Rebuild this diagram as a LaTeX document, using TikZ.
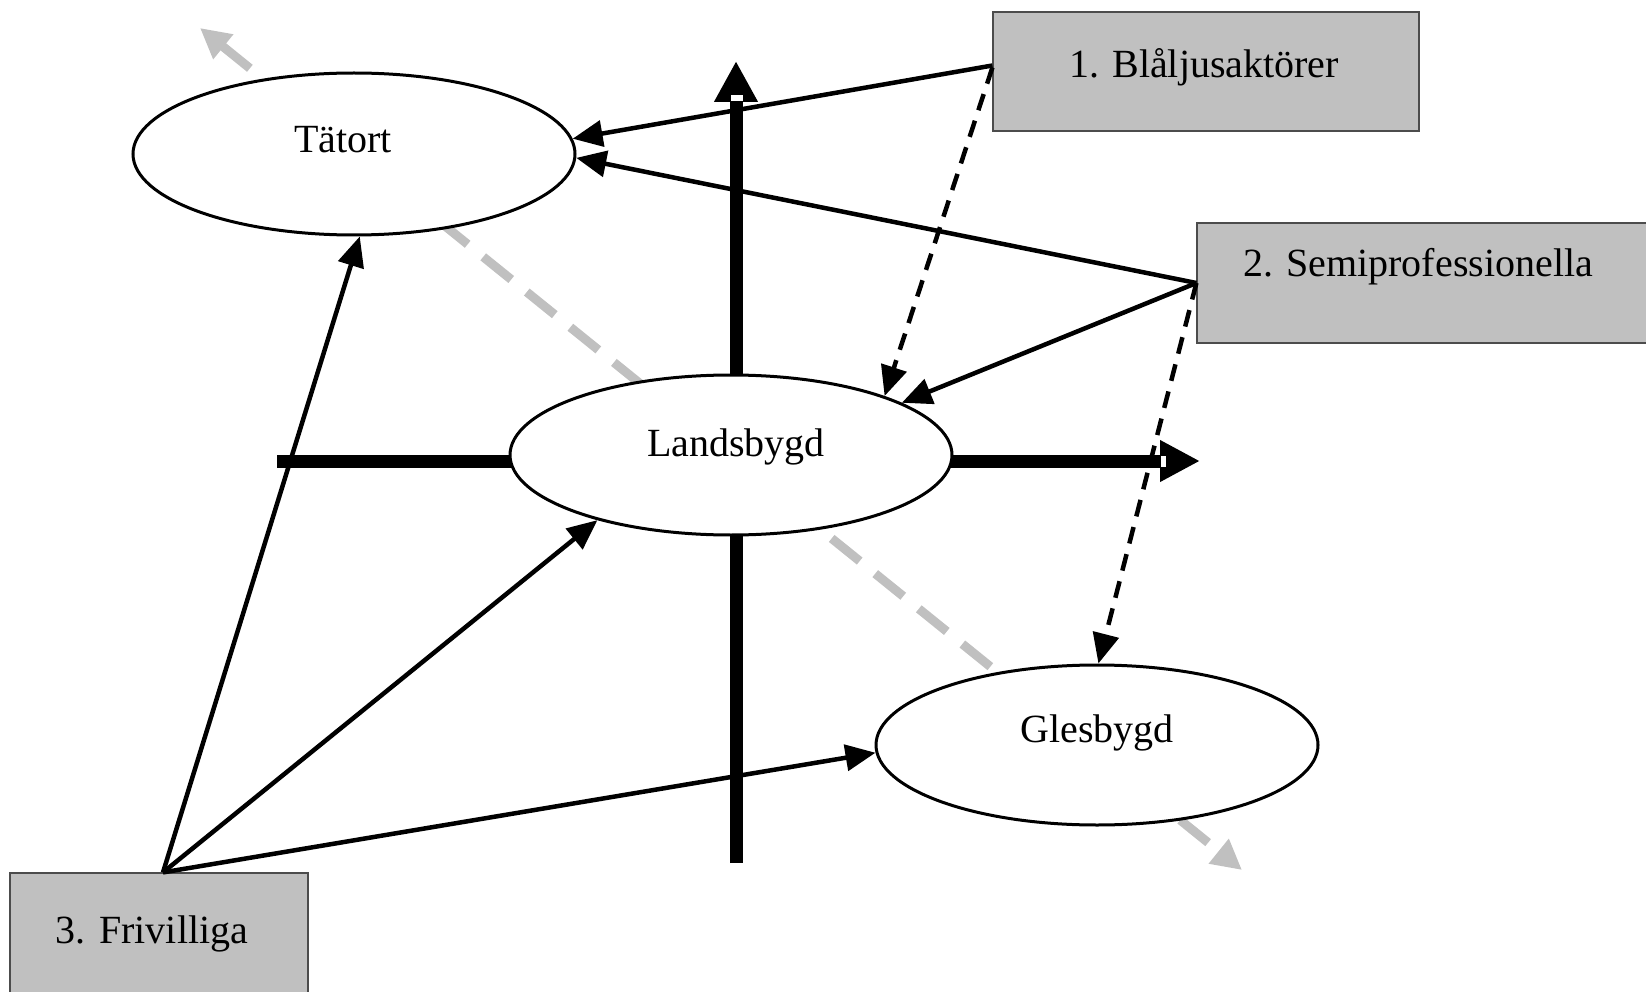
\documentclass[tikz,border=0pt]{standalone}
\usepackage{fontspec}
\setmainfont{Liberation Serif}
\usetikzlibrary{arrows.meta,shapes.geometric}
\definecolor{boxgrey}{RGB}{192,192,192}
\definecolor{lightgrey}{RGB}{192,192,192}
\begin{document}
\begin{tikzpicture}[x=1pt,y=-1pt,
  ell/.style={draw=black, line width=3pt, fill=white, ellipse, minimum width=442pt, minimum height=160pt, inner sep=0pt},
  grpbox/.style={draw=black!70, line width=1.2pt, fill=boxgrey, rectangle, inner sep=0pt},
  lbl/.style={anchor=base, font=\fontsize{40}{48}\selectfont, inner sep=0pt},
  conn/.style={line width=4.5pt, -{Triangle[length=30pt,width=26pt]}},
  dconn/.style={conn, dash pattern=on 17pt off 11pt},
  axisline/.style={line width=13pt},
  greyline/.style={draw=lightgrey, line width=9pt, dash pattern=on 36pt off 20pt,
    {Triangle[length=30pt,width=30pt]}-{Triangle[length=30pt,width=30pt]}}
]
\useasboundingbox (0,0) rectangle (1646,992);
\clip (0,0) rectangle (1646,992);

% grey dashed diagonal
\coordinate (gtl) at (200,28);
\coordinate (gbr) at (1242,870);
\draw[greyline] (gtl) -- (gbr);

% axes
\coordinate (vtop) at (736,61);
\coordinate (vbot) at (736,863);
\coordinate (hl) at (277,461);
\coordinate (hr) at (1200,461);
\draw[axisline, -{Triangle[length=41pt,width=41pt]}] (vbot) -- (vtop);
\draw[axisline, -{Triangle[length=40pt,width=39pt]}] (hl) -- (hr);
\fill[white] (731,95) rectangle (743,101);
\fill[white] (1161,456) rectangle (1166,467);

% ellipses
\node[ell, minimum height=162pt] (tat) at (354,154) {};
\node[ell] (land) at (731,455) {};
\node[ell] (gles) at (1097,745) {};

% boxes
\node[grpbox, minimum width=426pt, minimum height=119pt] (box1) at (1206,71.5) {};
\node[grpbox, minimum width=455pt, minimum height=120pt] (box2) at (1424.5,283) {};
\node[grpbox, minimum width=298pt, minimum height=126pt] (box3) at (159,936) {};

% connectors
\draw[conn] ([yshift=6pt]box1.west) -- (tat.4);
\draw[conn] (box2.west) -- (tat.359);
\draw[conn] (box2.west) -- (land.17);
\draw[dconn] ([yshift=4pt]box1.west) -- (land.21);
\draw[dconn] (box2.west) -- (gles.89);
\draw[conn] ([xshift=4pt]box3.north) -- (tat.274);
\draw[conn] ([xshift=4pt]box3.north) -- (land.206);
\draw[conn] ([xshift=4pt]box3.north) -- (gles.182);

% texts
\node[lbl] (tTat) at (343,153) {Tätort};
\node[lbl] (tLand) at (736,456) {Landsbygd};
\node[lbl] (tGles) at (1097,742) {Glesbygd};
\node[lbl] (tB1) at (1204,78) {1. Blåljusaktörer};
\node[lbl] (tB2) at (1418,277) {2. Semiprofessionella};
\node[lbl] (tB3) at (152,943) {3. Frivilliga};
\end{tikzpicture}
\end{document}
